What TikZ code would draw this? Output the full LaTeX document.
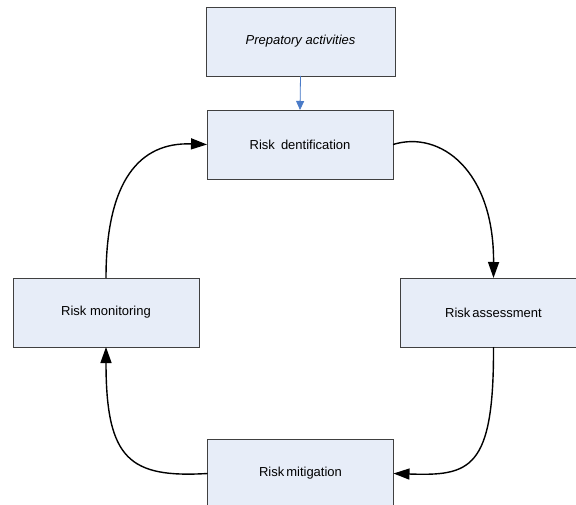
\documentclass[tikz,border=0pt]{standalone}
\usepackage{fontspec}
\setmainfont{Liberation Sans}
\usetikzlibrary{arrows.meta}
\definecolor{boxfill}{RGB}{231,237,248}
\definecolor{boxline}{RGB}{64,64,64}
\definecolor{feedblue}{RGB}{74,123,200}
\begin{document}
\begin{tikzpicture}[x=1pt,y=-1pt,
  stagebox/.style={draw=boxline,fill=boxfill,line width=0.8pt,
    minimum width=186pt,minimum height=69pt,inner sep=0pt,outer sep=0pt,
    font=\fontsize{13}{15}\selectfont},
  cycleflow/.style={line width=1.4pt,-{Triangle[length=16pt,width=11pt]}},
  feedflow/.style={draw=feedblue,line width=0.8pt,
    -{Triangle[length=9pt,width=8pt]},fill=feedblue}]
  \clip (0,0) rectangle (576,505);
  \fill[white] (0,0) rectangle (576,505);

  % process stages
  \node[stagebox,minimum width=189pt] (prep) at (300.5,41.5) {\itshape Prepatory activities};
  \node[stagebox] (ident)  at (300,144.5) {Risk\hspace{2.5pt} dentification};
  \node[stagebox] (monit)  at (106,312.5) {Risk monitoring};
  \node[stagebox] (assess) at (493.5,312.5) {Risk\hspace{2pt}assessment};
  \node[stagebox] (mitig)  at (300.5,473.5) {Risk\hspace{2pt}mitigation};

  % entry into the cycle
  \draw[feedflow] (prep.south) -- (ident.north);

  % the risk management cycle
  \draw[cycleflow] (ident.east) .. controls (440,130) and (494,170) .. (assess.north);
  \draw[cycleflow] (assess.south) .. controls (494,470) and (470,476) .. (mitig.east);
  \draw[cycleflow] (mitig.west) .. controls (130,478) and (106,460) .. (monit.south);
  \draw[cycleflow] (monit.north) .. controls (106,180) and (140,142) .. (ident.west);
\end{tikzpicture}
\end{document}
